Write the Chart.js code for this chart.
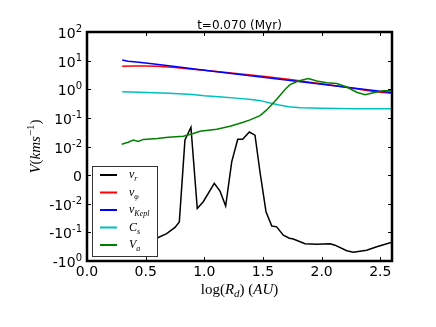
<!DOCTYPE html>
<html>
<head>
<meta charset="utf-8">
<script src="https://cdn.jsdelivr.net/npm/chart.js@4.4.0/dist/chart.umd.min.js"></script>
<style>
body { margin: 0; background: #fff; }
canvas { display: block; }
</style>
</head>
<body>
<canvas id="chart" width="436" height="327" style="width:436px;height:327px"></canvas>
<script>
// values, x = log(R_d) in AU, y = V in km/s
var vrX = [0.30, 0.40, 0.50, 0.608, 0.679, 0.750, 0.787, 0.835, 0.886, 0.940, 0.991, 1.085, 1.134, 1.182, 1.234, 1.285, 1.327, 1.384, 1.432, 1.475, 1.526, 1.575, 1.617, 1.673, 1.725, 1.759, 1.858, 1.958, 2.072, 2.114, 2.214, 2.270, 2.384, 2.470, 2.600];
var vrV = [-0.22, -0.2, -0.18, -0.15, -0.11, -0.067, -0.043, 0.017, 0.047, -0.0147, -0.0093, -0.0029, -0.0056, -0.012, 0.0047, 0.018, 0.018, 0.032, 0.025, 0.001, -0.019, -0.06, -0.064, -0.126, -0.16, -0.17, -0.25, -0.26, -0.25, -0.28, -0.44, -0.49, -0.42, -0.32, -0.22];

var vphiX = [0.30, 0.40, 0.50, 0.60, 0.75, 0.90, 1.00, 1.25, 1.50, 1.75, 1.90, 2.00, 2.25, 2.40, 2.50, 2.60];
var vphiV = [6.3, 6.5, 6.5, 6.3, 5.7, 5.0, 4.6, 3.6, 2.85, 2.15, 1.75, 1.55, 1.1, 0.88, 0.78, 0.72];

var vkepX = [0.30, 0.35, 0.40, 0.50, 0.75, 1.00, 1.25, 1.50, 1.75, 2.00, 2.25, 2.50, 2.60];
var vkepV = [10.5, 9.6, 9.2, 8.2, 6.2, 4.6, 3.5, 2.65, 2.0, 1.5, 1.12, 0.85, 0.77];

var csX = [0.30, 0.45, 0.70, 0.90, 1.00, 1.15, 1.30, 1.40, 1.48, 1.56, 1.64, 1.72, 1.82, 2.00, 2.30, 2.60];
var csV = [0.82, 0.78, 0.72, 0.65, 0.59, 0.54, 0.48, 0.44, 0.40, 0.33, 0.28, 0.245, 0.225, 0.215, 0.21, 0.21];

var vaX = [0.296, 0.35, 0.395, 0.437, 0.48, 0.60, 0.693, 0.821, 0.90, 0.963, 1.106, 1.219, 1.332, 1.39, 1.475, 1.532, 1.617, 1.69, 1.731, 1.80, 1.887, 1.958, 2.043, 2.129, 2.214, 2.299, 2.37, 2.441, 2.526, 2.60];
var vaV = [0.012, 0.014, 0.0167, 0.015, 0.0177, 0.019, 0.021, 0.023, 0.028, 0.034, 0.04, 0.051, 0.07, 0.085, 0.12, 0.19, 0.45, 1.0, 1.45, 1.95, 2.35, 1.95, 1.7, 1.58, 1.2, 0.79, 0.64, 0.76, 0.89, 0.89];

// y tick labels (symlog axis), base and exponent
var yTickVals = [100, 10, 1, 0.1, 0.01, 0, -0.01, -0.1, -1];
var yTickBase = ['10', '10', '10', '10', '10', '0', '-10', '-10', '-10'];
var yTickExp = ['2', '1', '0', '-1', '-2', '', '-2', '-1', '0'];

var titleText = 't=0.070 (Myr)';

// symlog transform, linear inside |v| < 0.01
var LINTHRESH = 0.01;
function symlog(v) {
    var a = Math.abs(v);
    if (a <= LINTHRESH) return v / LINTHRESH;
    return Math.sign(v) * (1 + Math.log10(a / LINTHRESH));
}

function points(xs, vs) {
    return xs.map(function(x, i) { return {x: x, y: symlog(vs[i])}; });
}

var SERIF = '"Liberation Serif", "DejaVu Serif", serif';
var SANS = '"DejaVu Sans", sans-serif';

// draw a row of text pieces [text, font, dy]
function drawRuns(ctx, parts, x, y, align) {
    var w = 0;
    parts.forEach(function(p) { ctx.font = p[1]; w += ctx.measureText(p[0]).width; });
    var cx = align === 'right' ? x - w : (align === 'center' ? x - w / 2 : x);
    parts.forEach(function(p) {
        ctx.font = p[1];
        ctx.fillText(p[0], cx, y + (p[2] || 0));
        cx += ctx.measureText(p[0]).width;
    });
}

function lab(main, sub) {
    var parts = [[main, 'italic 12px ' + SERIF, 0]];
    if (sub) parts.push([sub, 'italic 8px ' + SERIF, 3]);
    return parts;
}

var datasets = [
    {label: 'v_r', parts: lab('v', 'r'), data: points(vrX, vrV), borderColor: '#000000', order: 4},
    {label: 'v_phi', parts: lab('v', 'φ'), data: points(vphiX, vphiV), borderColor: '#ff0000', order: 3},
    {label: 'v_Kepl', parts: lab('v', 'Kepl'), data: points(vkepX, vkepV), borderColor: '#0000ff', order: 2},
    {label: 'C_s', parts: lab('C', 's'), data: points(csX, csV), borderColor: '#00bfbf', order: 1},
    {label: 'V_a', parts: lab('V', 'a'), data: points(vaX, vaV), borderColor: '#008000', order: 0}
];
datasets.forEach(function(d) {
    d.borderWidth = 1.5;
    d.pointRadius = 0;
    d.fill = false;
    d.tension = 0;
});

var decor = {
    id: 'decor',
    afterDraw: function(chart) {
        var ctx = chart.ctx;
        var a = chart.chartArea;
        var xs = chart.scales.x, ys = chart.scales.y;
        ctx.save();
        ctx.fillStyle = '#000';
        ctx.strokeStyle = '#000';

        // inward ticks
        ctx.lineWidth = 1;
        ctx.beginPath();
        xs.ticks.forEach(function(t) {
            var px = Math.round(xs.getPixelForValue(t.value)) + 0.5;
            ctx.moveTo(px, a.bottom); ctx.lineTo(px, a.bottom - 4);
            ctx.moveTo(px, a.top); ctx.lineTo(px, a.top + 4);
        });
        yTickVals.forEach(function(v) {
            var py = Math.round(ys.getPixelForValue(symlog(v))) + 0.5;
            ctx.moveTo(a.left, py); ctx.lineTo(a.left + 4, py);
            ctx.moveTo(a.right, py); ctx.lineTo(a.right - 4, py);
        });
        ctx.stroke();

        // frame
        ctx.lineWidth = 2.5;
        ctx.strokeRect(a.left, a.top, a.right - a.left, a.bottom - a.top);

        // y tick labels
        ctx.textBaseline = 'alphabetic';
        yTickVals.forEach(function(v, i) {
            var py = ys.getPixelForValue(symlog(v));
            var parts = [[yTickBase[i], '14px ' + SANS, 0]];
            if (yTickExp[i]) parts.push([yTickExp[i], '10px ' + SANS, -6]);
            drawRuns(ctx, parts, a.left - 5, py + 6, 'right');
        });

        // title
        ctx.font = '12px ' + SANS;
        ctx.textAlign = 'center';
        ctx.fillText(titleText, (a.left + a.right) / 2, 29);
        ctx.textAlign = 'left';

        // x axis title
        drawRuns(ctx, [
            ['log', '15px ' + SERIF, 0], ['(', '15px ' + SERIF, 0], ['R', 'italic 15px ' + SERIF, 0],
            ['d', 'italic 11px ' + SERIF, 3], [')', '15px ' + SERIF, 0], [' (', '15px ' + SERIF, 0],
            ['AU', 'italic 15px ' + SERIF, 0], [')', '15px ' + SERIF, 0]
        ], (a.left + a.right) / 2, 294, 'center');

        // y axis title
        ctx.save();
        ctx.translate(40, (a.top + a.bottom) / 2);
        ctx.rotate(-Math.PI / 2);
        drawRuns(ctx, [
            ['V', 'italic 15px ' + SERIF, 0], ['(', '15px ' + SERIF, 0], ['kms', 'italic 15px ' + SERIF, 0],
            ['\u22121', '11px ' + SERIF, -6], [')', '15px ' + SERIF, 0]
        ], 0, 0, 'center');
        ctx.restore();

        // legend box
        var lx = 92.5, ly = 166.5, lw = 65, lh = 90;
        ctx.fillStyle = '#fff';
        ctx.fillRect(lx, ly, lw, lh);
        ctx.lineWidth = 1;
        ctx.strokeStyle = '#333';
        ctx.strokeRect(lx, ly, lw, lh);
        chart.data.datasets.forEach(function(d, i) {
            var yy = 175 + i * 17.5;
            ctx.strokeStyle = d.borderColor;
            ctx.lineWidth = 2;
            ctx.beginPath();
            ctx.moveTo(100, yy); ctx.lineTo(117, yy);
            ctx.stroke();
            ctx.fillStyle = '#000';
            drawRuns(ctx, d.parts, 129, yy + 3, 'left');
        });
        ctx.restore();
    }
};

new Chart(document.getElementById('chart').getContext('2d'), {
    type: 'line',
    data: {datasets: datasets},
    options: {
        responsive: false,
        animation: false,
        devicePixelRatio: 1,
        layout: {padding: {left: 0, top: 32, right: 44, bottom: 0}},
        plugins: {legend: {display: false}, tooltip: {enabled: false}, title: {display: false}},
        scales: {
            x: {
                type: 'linear',
                min: 0, max: 2.6,
                grid: {display: false, drawTicks: false},
                border: {display: false},
                ticks: {
                    stepSize: 0.5, includeBounds: false, padding: 3,
                    color: '#000', font: {family: 'DejaVu Sans', size: 14},
                    callback: function(v) { return v.toFixed(1); }
                },
                afterFit: function(s) { s.height = 66; }
            },
            y: {
                type: 'linear',
                min: symlog(-1), max: symlog(100),
                grid: {display: false, drawTicks: false},
                border: {display: false},
                ticks: {display: false, stepSize: 1},
                afterFit: function(s) { s.width = 87; }
            }
        }
    },
    plugins: [decor]
});
</script>
</body>
</html>
